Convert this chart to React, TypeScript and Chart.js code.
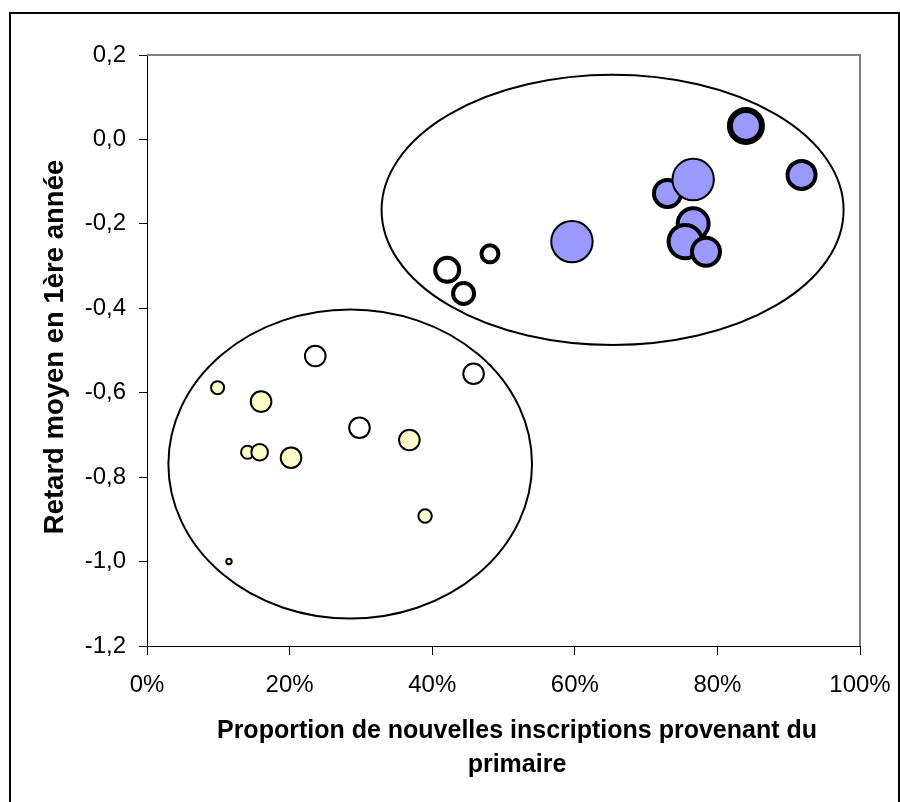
import React, { useEffect, useRef } from "react";
import { Chart, registerables } from "chart.js";

Chart.register(...registerables);

// Proportion de nouvelles inscriptions provenant du primaire (%), retard moyen, taille de bulle
const blueHeavyX = [84.0];
const blueHeavyY = [0.032];
const blueHeavyR = [16];

const blueThickX = [91.8, 73.0, 76.6, 75.5, 78.4];
const blueThickY = [-0.084, -0.128, -0.2, -0.242, -0.266];
const blueThickR = [14, 13.5, 15.5, 16.7, 14];

const blueThinX = [76.6, 59.6];
const blueThinY = [-0.095, -0.242];
const blueThinR = [20.7, 20.7];

const whiteThickX = [48.1, 42.1, 44.4];
const whiteThickY = [-0.271, -0.309, -0.365];
const whiteThickR = [8.5, 12, 10.5];

const whiteThinX = [23.6, 45.8, 29.8];
const whiteThinY = [-0.513, -0.555, -0.683];
const whiteThinR = [10.3, 10.3, 10.3];

const yellowX = [9.9, 16.0, 36.8, 14.1, 15.8, 20.2, 39.0, 11.5];
const yellowY = [-0.588, -0.621, -0.712, -0.741, -0.741, -0.754, -0.892, -1.0];
const yellowR = [6.5, 10.3, 10.3, 6.5, 8.3, 10.3, 6.7, 2.7];

// Ellipses de regroupement (coordonnées des données)
const ellipseCX = [65.3, 28.5];
const ellipseCY = [-0.167, -0.769];
const ellipseRX = [32.4, 25.5];
const ellipseRY = [0.32, 0.366];

const xTitleLines = ["Proportion de nouvelles inscriptions provenant du", "primaire"];
const yTitle = "Retard moyen en 1ère année";

const FONT = "'Liberation Sans', Arial, sans-serif";

function pts(xs: number[], ys: number[], rs: number[]) {
  return xs.map((x, i) => ({ x, y: ys[i], r: rs[i] }));
}

const decorPlugin = {
  id: "decor",
  beforeDatasetsDraw(chart: any) {
    const { ctx, chartArea } = chart;
    ctx.save();
    ctx.strokeStyle = "#808080";
    ctx.lineWidth = 2;
    ctx.beginPath();
    ctx.moveTo(chartArea.left, chartArea.top);
    ctx.lineTo(chartArea.right, chartArea.top);
    ctx.lineTo(chartArea.right, chartArea.bottom);
    ctx.stroke();
    ctx.restore();
  },
  afterDatasetsDraw(chart: any) {
    const { ctx } = chart;
    const xs = chart.scales.x;
    const ys = chart.scales.y;
    ctx.save();
    ctx.strokeStyle = "#000";
    ctx.lineWidth = 2;
    for (let i = 0; i < ellipseCX.length; i++) {
      const cx = xs.getPixelForValue(ellipseCX[i]);
      const cy = ys.getPixelForValue(ellipseCY[i]);
      const rx = xs.getPixelForValue(ellipseCX[i] + ellipseRX[i]) - cx;
      const ry = cy - ys.getPixelForValue(ellipseCY[i] + ellipseRY[i]);
      ctx.beginPath();
      ctx.ellipse(cx, cy, rx, ry, 0, 0, Math.PI * 2);
      ctx.stroke();
    }
    ctx.restore();
  },
  afterDraw(chart: any) {
    const { ctx } = chart;
    ctx.save();
    ctx.fillStyle = "#000";
    ctx.textAlign = "center";
    ctx.textBaseline = "middle";
    ctx.font = "bold 25px " + FONT;
    ctx.fillText(xTitleLines[0], 517, 731);
    ctx.fillText(xTitleLines[1], 517, 765);
    ctx.translate(55, 347);
    ctx.rotate(-Math.PI / 2);
    ctx.font = "bold 27.5px " + FONT;
    ctx.fillText(yTitle, 0, 0);
    ctx.restore();
  },
};

export default function App() {
  const ref = useRef<HTMLCanvasElement | null>(null);

  useEffect(() => {
    if (!ref.current) return;
    const common = { borderColor: "#000000" };
    const chart = new Chart(ref.current, {
      type: "bubble",
      data: {
        datasets: [
          { label: "b2", data: pts(blueThinX, blueThinY, blueThinR), backgroundColor: "#9999FF", borderWidth: 2, ...common },
          { label: "b0", data: pts(blueHeavyX, blueHeavyY, blueHeavyR), backgroundColor: "#9999FF", borderWidth: 6, ...common },
          { label: "b1", data: pts(blueThickX, blueThickY, blueThickR), backgroundColor: "#9999FF", borderWidth: 4, ...common },
          { label: "w1", data: pts(whiteThickX, whiteThickY, whiteThickR), backgroundColor: "#FFFFFF", borderWidth: 4, ...common },
          { label: "w2", data: pts(whiteThinX, whiteThinY, whiteThinR), backgroundColor: "#FFFFFF", borderWidth: 2, ...common },
          { label: "y", data: pts(yellowX, yellowY, yellowR), backgroundColor: "#FFFFCC", borderWidth: 2, ...common },
        ],
      },
      options: {
        animation: false,
        responsive: true,
        maintainAspectRatio: false,
        layout: { padding: { top: 55, right: 40, bottom: 0, left: 0 } },
        plugins: { legend: { display: false }, tooltip: { enabled: false } },
        scales: {
          x: {
            type: "linear",
            min: 0,
            max: 100,
            afterFit: (s: any) => { s.height = 156; s.paddingLeft = 0; s.paddingRight = 0; },
            border: { display: true, color: "#000", width: 1 },
            grid: { drawOnChartArea: false, drawTicks: true, tickLength: 9, color: "#000" },
            ticks: {
              stepSize: 20,
              color: "#000",
              padding: 16,
              maxRotation: 0,
              font: { family: FONT, size: 24 },
              callback: (v: any) => Math.round(Number(v)) + "%",
            },
          },
          y: {
            type: "linear",
            min: -1.2,
            max: 0.2,
            afterFit: (s: any) => { s.width = 147; s.paddingTop = 0; s.paddingBottom = 0; },
            border: { display: true, color: "#000", width: 1 },
            grid: { drawOnChartArea: false, drawTicks: true, tickLength: 8, color: "#000" },
            ticks: {
              stepSize: 0.2,
              color: "#000",
              padding: 13,
              font: { family: FONT, size: 24 },
              callback: (v: any) => {
                let n = Number(v);
                if (Math.abs(n) < 1e-9) n = 0;
                return n.toFixed(1).replace(".", ",");
              },
            },
          },
        },
      },
      plugins: [decorPlugin],
    });
    return () => chart.destroy();
  }, []);

  return (
    <div style={{ position: "absolute", left: 0, top: 0, width: 900, height: 802, background: "#fff", overflow: "hidden" }}>
      <canvas ref={ref} />
      <div style={{ position: "absolute", left: 9, top: 12, width: 887, height: 800, borderTop: "2px solid #000", borderLeft: "2px solid #000", borderRight: "2px solid #000", pointerEvents: "none" }} />
    </div>
  );
}
